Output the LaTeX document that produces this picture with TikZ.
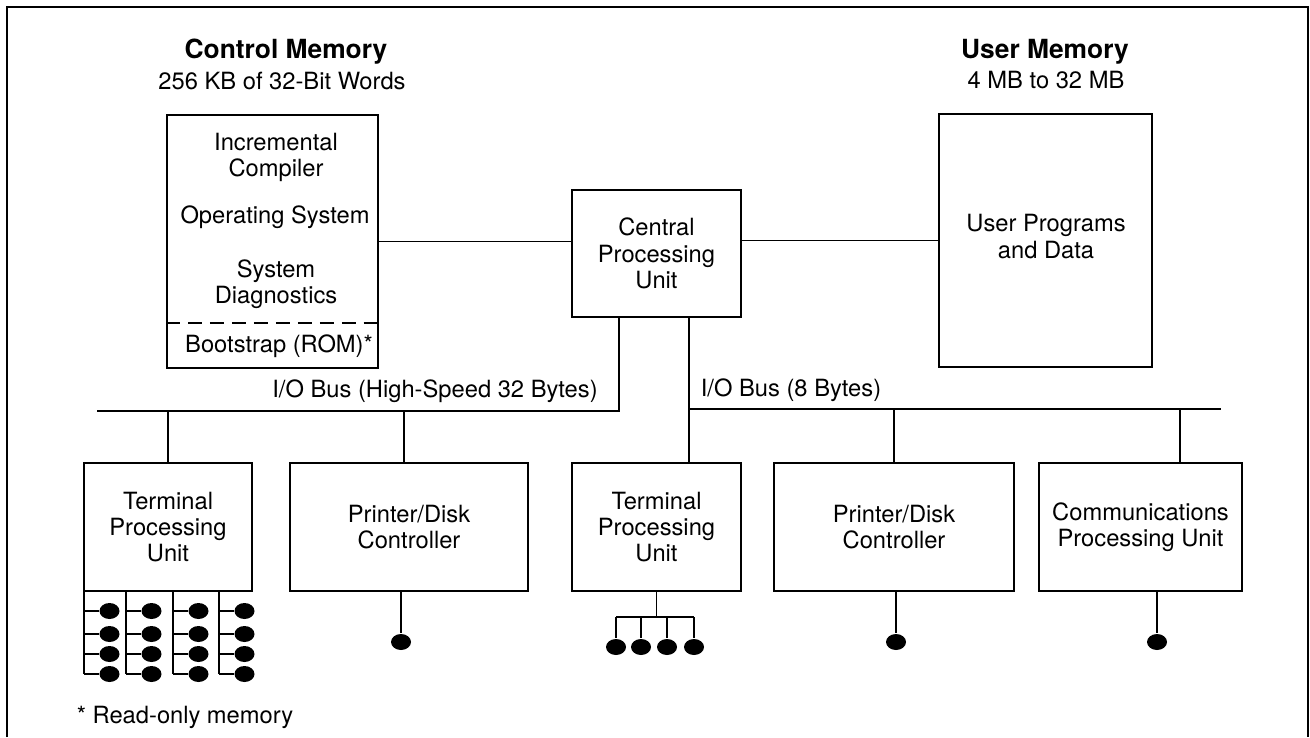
\documentclass[tikz,border=0pt]{standalone}
\usepackage{fontspec}
\setmainfont{TeX Gyre Heros}
\usetikzlibrary{shapes.geometric}

\tikzset{
	unit/.style={draw, line width=1.1pt, align=center, inner sep=0pt, minimum height=2.56cm},
	memory/.style={draw, line width=1.1pt, inner sep=0pt, minimum height=5.06cm},
	txt/.style={align=center, inner sep=0pt},
	heading/.style={inner sep=0pt, font=\fontsize{15}{17}\selectfont\bfseries},
	term/.style={ellipse, fill=black, inner sep=0pt, minimum width=0.4cm, minimum height=0.32cm},
}

\begin{document}
\begin{tikzpicture}[x=0.02cm, y=-0.02cm, line width=1.1pt, font=\fontsize{13.5}{15}\selectfont]
			%%%%% FRAME %%%%%
			\useasboundingbox (0,0) rectangle (1310,737);
			\draw (7,737) -- (7,7) -- (1308,7) -- (1308,737);
			
			%%%%% MEMORIES AND CPU %%%%%
			\node[heading] (cmTitle) at (286,52) {Control Memory};
			\node[txt] (cmSub) at (282,81) {256 KB of 32-Bit Words};
			\node[memory, minimum width=4.22cm] (cm) at (272.5,241.5) {};
			\node[txt] (cmComp) at (276,157.5) {Incremental\\Compiler};
			\node[txt] (cmOs) at (275,217) {Operating System};
			\node[txt] (cmDiag) at (276,284) {System\\Diagnostics};
			\node[txt] (cmBoot) at (279,346) {Bootstrap (ROM)*};
			\draw[dash pattern=on 8pt off 4.5pt] (cm.west |- 0,323) -- (cm.east |- 0,323);
			
			\node[heading] (umTitle) at (1045,52) {User Memory};
			\node[txt] (umSub) at (1046,80) {4 MB to 32 MB};
			\node[memory, minimum width=4.26cm] (um) at (1045.5,240.5) {};
			\node[txt] (umProg) at (1046,236.5) {User Programs\\and Data};
			
			\node[unit, minimum width=3.38cm, minimum height=2.54cm] (cpu) at (656.5,253.5) {Central\\Processing\\Unit};
			
			\draw (cm.east) -- (cm.east -| cpu.west);
			\draw (um.west -| cpu.east) -- (um.west);
			
			%%%%% BUSES %%%%%
			\coordinate (busLa) at (97,411);
			\coordinate (busLb) at (619,411);
			\coordinate (busRa) at (689,409);
			\coordinate (busRb) at (1221,409);
			\coordinate (tapC) at (1180,409);
			
			\node[txt] (busLtxt) at (435,391) {I/O Bus (High-Speed 32 Bytes)};
			\node[txt] (busRtxt) at (791,390) {I/O Bus (8 Bytes)};
			
			%%%%% I/O UNITS %%%%%
			\node[unit, minimum width=3.36cm] (tpuA) at (168,527) {Terminal\\Processing\\Unit};
			\node[unit, minimum width=4.76cm] (pdcA) at (409,527) {Printer/Disk\\Controller};
			\node[unit, minimum width=3.38cm] (tpuB) at (656.5,527) {Terminal\\Processing\\Unit};
			\node[unit, minimum width=4.8cm] (pdcB) at (894,527) {Printer/Disk\\Controller};
			\node[unit, minimum width=4.06cm] (comm) at (1140.5,527) {Communications\\Processing Unit};
			
			\draw (busLa) -- (busLb) -- (cpu.south -| busLb);
			\draw (cpu.south -| busRa) -- (tpuB.north -| busRa);
			\draw (busRa) -- (busRb);
			\draw (tpuA.north) -- (tpuA.north |- busLa);
			\draw ([xshift=-0.1cm]pdcA.north) -- ([xshift=-0.1cm]pdcA.north |- busLa);
			\draw (pdcB.north) -- (pdcB.north |- busRa);
			\draw (tapC) -- (tapC |- comm.north);
			
			%%%%% TERMINALS %%%%%
			\foreach \x [count=\i] in {84,126,173,219} {
				\coordinate (ca\i) at (\x,591);
				\foreach \y [count=\j] in {611,634,654,674} {
					\node[term] (ta\i\j) at (\x+25.5,\y) {};
					\draw (ca\i |- ta\i\j) -- (ta\i\j);
				}
				\draw (ca\i) -- (ca\i |- ta\i4);
			}
			
			\coordinate (hubB) at (656.5,617);
			\foreach \x [count=\i] in {616,641,667,694} {
				\node[term] (tb\i) at (\x,647) {};
				\draw (tb\i |- hubB) -- (tb\i);
			}
			\draw (tpuB.south) -- (hubB);
			\draw (tb1 |- hubB) -- (tb4 |- hubB);
			
			\node[term] (pa) at (401,642) {};
			\draw (pa |- pdcA.south) -- (pa);
			\node[term] (pb) at (896,642) {};
			\draw (pb |- pdcB.south) -- (pb);
			\node[term] (pc) at (1157,642) {};
			\draw (pc |- comm.south) -- (pc);
			
			\node[txt] (note) at (185,717) {* Read-only memory};
			
			%%%%% END %%%%%
\end{tikzpicture}
\end{document}
